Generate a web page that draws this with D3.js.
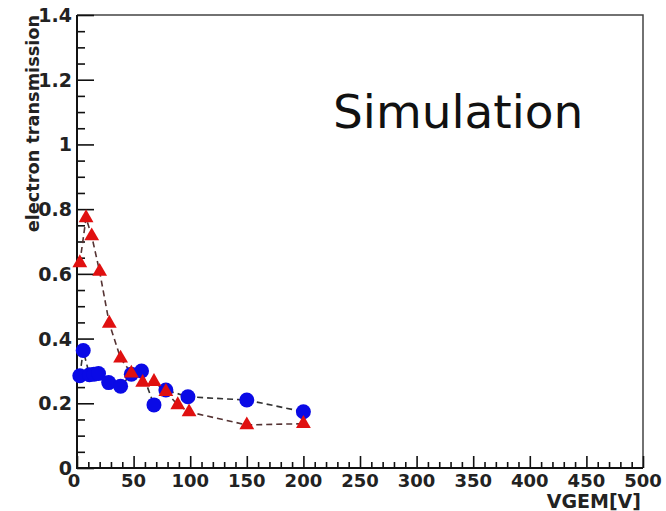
<!DOCTYPE html>
<html><head><meta charset="utf-8">
<script src="https://cdn.jsdelivr.net/npm/d3@7"></script>
<style>body{margin:0;background:#fff}svg{display:block}</style>
</head><body>
<svg id="c" width="666" height="511"></svg>
<script>
const blueX = [2.5, 5.5, 11, 15, 19, 28, 38.5, 48, 57, 68, 78.5, 98, 150, 200];
const blueY = [0.285, 0.363, 0.288, 0.29, 0.292, 0.264, 0.253, 0.29, 0.3, 0.195, 0.241, 0.22, 0.21, 0.174];
const redX = [2.5, 8, 13, 20, 28.5, 38.5, 48, 58, 68, 78.5, 89, 99, 150, 200];
const redY = [0.634, 0.773, 0.717, 0.607, 0.447, 0.339, 0.293, 0.264, 0.267, 0.236, 0.195, 0.173, 0.133, 0.137];
const xTicks = [0, 50, 100, 150, 200, 250, 300, 350, 400, 450, 500];
const yTicks = [0, 0.2, 0.4, 0.6, 0.8, 1, 1.2, 1.4];
const xTitle = "VGEM[V]";
const yTitle = "electron transmission";
const note = "Simulation";

const L = 77, R = 643, T = 15, B = 468;
const svg = d3.select("#c");
const x = d3.scaleLinear().domain([0, 500]).range([L, R]);
const y = d3.scaleLinear().domain([0, 1.4]).range([B, T]);
const BOLD = "'DejaVu Sans', sans-serif";

// frame top/right
svg.append("path").attr("d", `M${L},${T}H${R}V${B}`).attr("fill", "none").attr("stroke", "#444").attr("stroke-width", 1.5);

// minor ticks
const xMinor = d3.range(0, 501, 10).filter(v => v % 50 !== 0);
const yMinor = d3.range(0, 29).map(i => i * 0.05).filter((v, i) => i % 4 !== 0);

const xAx = svg.append("g").attr("transform", `translate(0,${B})`);
xAx.call(d3.axisTop(x).tickValues(xMinor).tickSize(6).tickFormat(""));
xAx.select(".domain").remove();
const xAx2 = svg.append("g").attr("transform", `translate(0,${B})`);
xAx2.call(d3.axisTop(x).tickValues(xTicks).tickSize(12).tickFormat(""));
xAx2.select(".domain").remove();

const yAx = svg.append("g").attr("transform", `translate(${L},0)`);
yAx.call(d3.axisRight(y).tickValues(yMinor).tickSize(8).tickFormat(""));
yAx.select(".domain").remove();
const yAx2 = svg.append("g").attr("transform", `translate(${L},0)`);
yAx2.call(d3.axisRight(y).tickValues(yTicks).tickSize(17).tickFormat(""));
yAx2.select(".domain").remove();
svg.selectAll("g .tick line").attr("stroke", "#111").attr("stroke-width", 1.6);

// axis lines
svg.append("path").attr("d", `M${L},${T}V${B}H${R}`).attr("fill", "none").attr("stroke", "#111").attr("stroke-width", 2);

// tick labels
const lab = {"font-family": BOLD, "font-weight": "bold", "fill": "#222"};
const xl = svg.append("g").selectAll("text").data(xTicks).join("text")
  .attr("x", d => x(d) - (d === 0 ? 3 : 0)).attr("y", 487).attr("text-anchor", "middle")
  .attr("font-size", "18px").text(d => d);
const yl = svg.append("g").selectAll("text").data(yTicks).join("text")
  .attr("x", 72).attr("y", d => y(d) + 7).attr("text-anchor", "end")
  .attr("font-size", "19px").text(d => d3.format("")(d));
[xl, yl].forEach(s => Object.entries(lab).forEach(([k, v]) => s.attr(k, v)));

// titles
svg.append("text").attr("x", R - 2).attr("y", 508).attr("text-anchor", "end")
  .attr("font-family", BOLD).attr("font-weight", "bold").attr("font-size", "19px").attr("fill", "#222")
  .text(xTitle);
svg.append("text").attr("transform", `translate(38.5,${T}) rotate(-90)`).attr("text-anchor", "end")
  .attr("font-family", BOLD).attr("font-weight", "bold").attr("font-size", "17.7px").attr("fill", "#222")
  .text(yTitle);

svg.append("text").attr("x", 333).attr("y", 128)
  .attr("font-family", "'DejaVu Sans', sans-serif").attr("font-size", "47px").attr("fill", "#111")
  .text(note);

// series
const line = d3.line().x(d => x(d[0])).y(d => y(d[1]));
const blue = blueX.map((v, i) => [v, blueY[i]]);
const red = redX.map((v, i) => [v, redY[i]]);

svg.append("path").datum(blue).attr("d", line).attr("fill", "none").attr("stroke", "#333").attr("stroke-width", 1.6).attr("stroke-dasharray", "6,4");
svg.append("path").datum(red).attr("d", line).attr("fill", "none").attr("stroke", "#553333").attr("stroke-width", 1.6).attr("stroke-dasharray", "6,4");

svg.append("g").selectAll("circle").data(blue).join("circle")
  .attr("cx", d => x(d[0])).attr("cy", d => y(d[1])).attr("r", 7.5).attr("fill", "#0a0ae6");
const tri = d3.symbol().type(d3.symbolTriangle).size(95);
svg.append("g").selectAll("path").data(red).join("path")
  .attr("transform", d => `translate(${x(d[0])},${y(d[1])})`).attr("d", tri).attr("fill", "#e01010");
</script>
</body></html>
